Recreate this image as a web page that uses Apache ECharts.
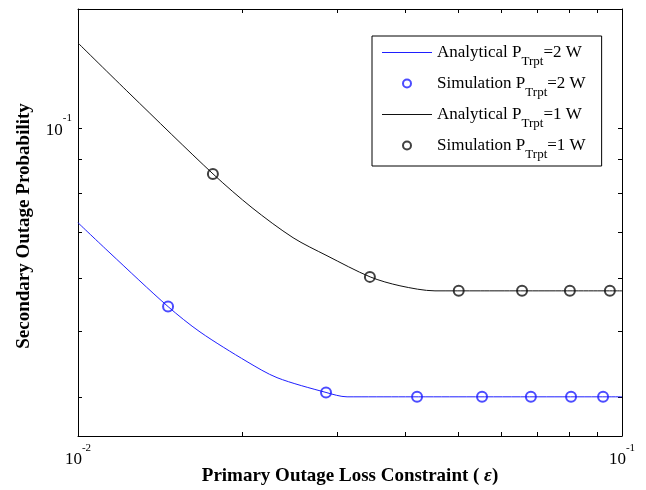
<!DOCTYPE html>
<html>
<head>
<meta charset="utf-8">
<script src="https://cdn.jsdelivr.net/npm/echarts@6/dist/echarts.min.js"></script>
<style>
  html, body { margin: 0; padding: 0; background: #fff; }
  #chart { width: 646px; height: 490px; }
</style>
</head>
<body>
<div id="chart"></div>
<script>
// analytical curves
const anaX2 = [0.0100, 0.01145, 0.01464, 0.01676, 0.02045, 0.02322, 0.02857, 0.03123, 0.0400, 0.1]
const anaY2 = [0.0724, 0.0653, 0.0544, 0.0499, 0.0451, 0.0427, 0.0406, 0.0400, 0.0400, 0.0400]
const anaX1 = [0.0100, 0.01246, 0.01771, 0.02089, 0.02485, 0.02869, 0.03443, 0.03907, 0.04531, 0.0550, 0.1]
const anaY1 = [0.1336, 0.1123, 0.0855, 0.0762, 0.0688, 0.0647, 0.0602, 0.0584, 0.0574, 0.0574, 0.0574]

// simulation points
const simX2 = [0.01464, 0.02857, 0.0420, 0.0553, 0.0680, 0.0806, 0.0923]
const simY2 = [0.0544, 0.0406, 0.0400, 0.0400, 0.0400, 0.0400, 0.0400]
const simX1 = [0.0177, 0.0344, 0.0501, 0.0655, 0.0802, 0.0950]
const simY1 = [0.0855, 0.0602, 0.0574, 0.0574, 0.0574, 0.0574]

// ticks / labels
const xTicks = [0.02, 0.03, 0.04, 0.05, 0.06, 0.07, 0.08, 0.09]
const yTicks = [0.04, 0.05, 0.06, 0.07, 0.08, 0.09, 0.1]
const xLabels = [0.01, 0.1]
const yLabels = [0.1]

const names = [
  'Analytical PTrpt=2 W',
  'Simulation PTrpt=2 W',
  'Analytical PTrpt=1 W',
  'Simulation PTrpt=1 W'
]

const blue = '#1f1fff'
const black = '#111'
const font = '"Liberation Serif", "Times New Roman", serif'
const zip = (xs, ys) => xs.map((x, i) => [x, ys[i]])
const lineIcon = 'path://M0,0L50,0L50,1.2L0,1.2Z'

const powLabel = v => '{b|10}{p|' + Math.round(Math.log10(v)) + '}'
const labelRich = {
  b: {fontFamily: font, fontSize: 17, lineHeight: 17, color: '#000', padding: [5, 0, 0, 0]},
  p: {fontFamily: font, fontSize: 11, lineHeight: 11, color: '#000', padding: [0, 0, 19, 0]}
}

const boxAxis = (ticks) => ({
  axisLine: {show: true, lineStyle: {color: '#000', width: 1}},
  axisTick: {show: true, inside: true, length: 4, customValues: ticks, lineStyle: {color: '#000'}},
  splitLine: {show: false}
})

const myChart = echarts.init(document.getElementById('chart'))
const option = {
  animation: false,
  backgroundColor: '#fff',
  grid: {left: 78, right: 24, top: 9, bottom: 54, containLabel: false, outerBoundsMode: 'none'},
  legend: {
    orient: 'vertical',
    left: 372,
    top: 36,
    padding: [1, 16, 5, 10],
    itemGap: 0,
    itemWidth: 50,
    itemHeight: 8,
    borderColor: '#000',
    borderWidth: 1,
    backgroundColor: '#fff',
    data: [
      {name: names[0], icon: lineIcon},
      {name: names[1]},
      {name: names[2], icon: lineIcon},
      {name: names[3]}
    ],
    formatter: name => '{t|' + name.replace('PTrpt', 'P}{s|Trpt}{t|') + '}',
    textStyle: {
      fontFamily: font,
      fontSize: 17,
      color: '#000',
      rich: {
        t: {fontFamily: font, fontSize: 17, lineHeight: 17, color: '#000'},
        s: {fontFamily: font, fontSize: 13, lineHeight: 13, color: '#000', padding: [18, 0, 0, 0]}
      }
    }
  },
  xAxis: [
    {
      type: 'log', logBase: 10, min: 0.01, max: 0.1, position: 'bottom',
      ...boxAxis(xTicks),
      axisLabel: {customValues: xLabels, formatter: powLabel, margin: 13, rich: labelRich},
      name: 'Primary Outage Loss Constraint ( {e|ε})',
      nameLocation: 'middle',
      nameGap: 31,
      nameMoveOverlap: false,
      nameTextStyle: {
        fontFamily: font, fontSize: 19, fontWeight: 'bold', color: '#000',
        rich: {e: {fontFamily: font, fontSize: 19, fontWeight: 'bold', fontStyle: 'italic', color: '#000'}}
      }
    },
    {
      type: 'log', logBase: 10, min: 0.01, max: 0.1, position: 'top',
      ...boxAxis(xTicks),
      axisLabel: {show: false}
    }
  ],
  yAxis: [
    {
      type: 'log', logBase: 10, min: 0.035, max: 0.15, position: 'left',
      ...boxAxis(yTicks),
      axisLabel: {customValues: yLabels, formatter: powLabel, margin: 6, rich: labelRich},
      name: 'Secondary Outage Probability',
      nameLocation: 'middle',
      nameGap: 44,
      nameMoveOverlap: false,
      nameTextStyle: {fontFamily: font, fontSize: 19, fontWeight: 'bold', color: '#000', padding: [0, 7, 0, 0]}
    },
    {
      type: 'log', logBase: 10, min: 0.035, max: 0.15, position: 'right',
      ...boxAxis(yTicks),
      axisLabel: {show: false}
    }
  ],
  series: [
    {
      name: names[0], type: 'line', data: zip(anaX2, anaY2), symbol: 'none', smooth: 0.3,
      color: blue, lineStyle: {color: blue, width: 1}
    },
    {
      name: names[1], type: 'scatter', data: zip(simX2, simY2), symbol: 'emptyCircle', symbolSize: 10,
      itemStyle: {color: blue, borderColor: blue, borderWidth: 1.2}
    },
    {
      name: names[2], type: 'line', data: zip(anaX1, anaY1), symbol: 'none', smooth: 0.3,
      color: black, lineStyle: {color: black, width: 1}
    },
    {
      name: names[3], type: 'scatter', data: zip(simX1, simY1), symbol: 'emptyCircle', symbolSize: 10,
      itemStyle: {color: black, borderColor: black, borderWidth: 1.2}
    }
  ]
}
myChart.setOption(option)
</script>
</body>
</html>
